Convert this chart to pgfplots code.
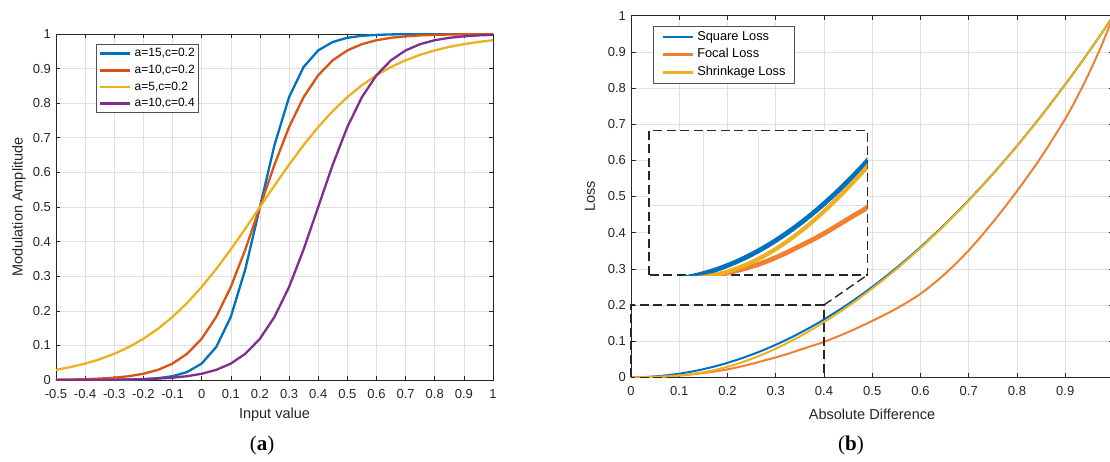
\documentclass[border=0pt]{standalone}
\usepackage{pgfplots}
\pgfplotsset{compat=1.18}
\usepackage{pgfplotstable}
\usepackage{fontspec}
\setmainfont{Liberation Sans}
\newfontfamily\capfont{Liberation Serif}

\definecolor{mblue}{RGB}{0,114,189}
\definecolor{mred}{RGB}{217,83,25}
\definecolor{myellow}{RGB}{237,177,32}
\definecolor{mpurple}{RGB}{126,47,142}
\definecolor{morange}{RGB}{240,128,48}
\definecolor{axgray}{RGB}{38,38,38}
\definecolor{gridgray}{RGB}{224,224,224}

% sigmoid modulation curves, panel (a)
\pgfplotstableread{
x     b15     r10     y5      p10
-0.5  0.00003 0.00091 0.02931 0.00012
-0.45 0.00006 0.0015  0.03733 0.0002
-0.4  0.00012 0.00247 0.04743 0.00034
-0.35 0.00026 0.00407 0.06008 0.00055
-0.3  0.00055 0.00669 0.07586 0.00091
-0.25 0.00117 0.01099 0.09535 0.0015
-0.2  0.00247 0.01799 0.1192  0.00247
-0.15 0.00522 0.02931 0.148   0.00407
-0.1  0.01099 0.04743 0.1824  0.00669
-0.05 0.02299 0.07586 0.2227  0.01099
0     0.04743 0.1192  0.2689  0.01799
0.05  0.09535 0.1824  0.3208  0.02931
0.1   0.1824  0.2689  0.3775  0.04743
0.15  0.3208  0.3775  0.4378  0.07586
0.2   0.5     0.5     0.5     0.1192
0.25  0.6792  0.6225  0.5622  0.1824
0.3   0.8176  0.7311  0.6225  0.2689
0.35  0.9047  0.8176  0.6792  0.3775
0.4   0.9526  0.8808  0.7311  0.5
0.45  0.977   0.9241  0.7773  0.6225
0.5   0.989   0.9526  0.8176  0.7311
0.55  0.9948  0.9707  0.852   0.8176
0.6   0.9975  0.982   0.8808  0.8808
0.65  0.9988  0.989   0.9047  0.9241
0.7   0.99945 0.9933  0.9241  0.9526
0.75  0.99974 0.99593 0.9399  0.9707
0.8   0.99988 0.99753 0.9526  0.982
0.85  0.99994 0.9985  0.9627  0.989
0.9   0.99997 0.99909 0.9707  0.9933
0.95  0.99999 0.99945 0.977   0.99593
1     1       0.99966 0.982   0.99753
}\sigtab

% loss curves, panel (b)
\pgfplotstableread{
x     sq       fo     sh
0     0        0      0
0.025 0.000625 0.0002 0.0002
0.05  0.0025   0.001  0.0009
0.075 0.005625 0.0025 0.0025
0.1   0.01     0.005  0.005
0.125 0.015625 0.008  0.0088
0.15  0.0225   0.012  0.014
0.175 0.030625 0.0165 0.0208
0.2   0.04     0.022  0.0292
0.225 0.050625 0.029  0.0394
0.25  0.0625   0.037  0.0511
0.275 0.075625 0.046  0.0644
0.3   0.09     0.055  0.0793
0.325 0.105625 0.065  0.0956
0.35  0.1225   0.076  0.1132
0.375 0.140625 0.087  0.1322
0.4   0.16     0.098  0.1524
0.45  0.2025   0.125  0.1966
0.5   0.25     0.156  0.2455
0.55  0.3025   0.19   0.2992
0.6   0.36     0.231  0.3576
0.65  0.4225   0.285  0.4208
0.7   0.49     0.351  0.4888
0.75  0.5625   0.429  0.5617
0.8   0.64     0.515  0.6394
0.85  0.7225   0.609  0.7221
0.9   0.81     0.715  0.8097
0.925 0.855625 0.776  0.8554
0.95  0.9025   0.843  0.9023
0.975 0.950625 0.917  0.9505
1     1        1      0.9999
}\losstab

\tikzset{dashbox/.style={black!85, line width=1.4pt, dash pattern=on 9pt off 4.5pt}}

\pgfplotsset{
  mat/.style={scale only axis, axis line style={axgray, line width=0.7pt},
    tick style={axgray, line width=0.6pt}, major tick length=4.5pt,
    tick align=inside, xtick pos=both, ytick pos=both,
    grid=major, grid style={gridgray, line width=0.6pt},
    tick label style={font=\fontsize{13}{13}\selectfont, text=axgray},
    label style={font=\fontsize{14.5}{14.5}\selectfont, text=axgray},
    yticklabel style={xshift=-1.5pt}, xticklabel style={yshift=-6pt},
    ytick={0,0.1,0.2,0.3,0.4,0.5,0.6,0.7,0.8,0.9,1},
    yticklabels={0,0.1,0.2,0.3,0.4,0.5,0.6,0.7,0.8,0.9,1},
    legend cell align=left,
    legend image code/.code={\draw[#1] (0pt,0pt) -- (30pt,0pt);},
    legend image post style={line width=2.7pt},
  },
}

\begin{document}
\begin{tikzpicture}[x=1pt,y=1pt]
\path[use as bounding box] (0,0) rectangle (1110,461);

\begin{axis}[mat, at={(56pt,81pt)}, anchor=south west, width=437pt, height=346pt,
  xmin=-0.5, xmax=1, ymin=0, ymax=1,
  xtick={-0.5,-0.4,-0.3,-0.2,-0.1,0,0.1,0.2,0.3,0.4,0.5,0.6,0.7,0.8,0.9,1},
  xticklabels={-0.5,-0.4,-0.3,-0.2,-0.1,0,0.1,0.2,0.3,0.4,0.5,0.6,0.7,0.8,0.9,1},
  xlabel={Input value}, ylabel={Modulation Amplitude},
  xlabel style={at={(axis description cs:0.5,-0.101)}, anchor=center},
  ylabel style={at={(axis description cs:-0.0847,0.5)}, anchor=center},
  legend style={at={(0.0908,0.970)}, anchor=north west, draw=axgray!80,
    line width=0.6pt, fill=white, font=\fontsize{12}{12}\selectfont,
    inner xsep=3pt, inner ysep=2.5pt, row sep=3.7pt, column sep=2pt,
    nodes={inner sep=1pt, text height=8.6pt, text depth=2.4pt}},
]
\addplot[mblue, line width=2.3pt] table[x=x, y=b15] {\sigtab};
\addlegendentry{a=15,c=0.2}
\addplot[mred, line width=2.3pt] table[x=x, y=r10] {\sigtab};
\addlegendentry{a=10,c=0.2}
\addplot[myellow, line width=2.3pt] table[x=x, y=y5] {\sigtab};
\addlegendentry{a=5,c=0.2}
\addplot[mpurple, line width=2.3pt] table[x=x, y=p10] {\sigtab};
\addlegendentry{a=10,c=0.4}
\end{axis}

\begin{axis}[mat, at={(631pt,83.7pt)}, anchor=south west, width=482.5pt, height=361.6pt,
  xmin=0, xmax=1, ymin=0, ymax=1, clip mode=individual,
  xtick={0,0.1,0.2,0.3,0.4,0.5,0.6,0.7,0.8,0.9,1},
  xticklabels={0,0.1,0.2,0.3,0.4,0.5,0.6,0.7,0.8,0.9,{}},
  xlabel={Absolute Difference}, ylabel={Loss},
  xlabel style={at={(axis description cs:0.4995,-0.1015)}, anchor=center},
  ylabel style={at={(axis description cs:-0.085,0.5)}, anchor=center},
  legend style={at={(0.0462,0.9715)}, anchor=north west, draw=axgray!80,
    line width=0.6pt, fill=white, font=\fontsize{12.8}{12.8}\selectfont,
    inner xsep=8pt, inner ysep=3.8pt, row sep=4.2pt, column sep=2pt,
    nodes={inner sep=1pt, text height=9pt, text depth=2.6pt}},
]
\addplot[mblue, line width=2pt, smooth] table[x=x, y=sq] {\losstab};
\addlegendentry{Square Loss}
\addplot[morange, line width=2pt, smooth] table[x=x, y=fo] {\losstab};
\addlegendentry{Focal Loss}
\addplot[myellow, line width=2pt, smooth] table[x=x, y=sh] {\losstab};
\addlegendentry{Shrinkage Loss}
\draw[dashbox] (axis cs:0,0) rectangle (axis cs:0.4,0.2);
\draw[dashbox] (axis cs:0.4,0.2) -- (axis cs:0.49,0.283);
\end{axis}

% magnified view of the dashed region
\begin{axis}[at={(649pt,186pt)}, anchor=south west, scale only axis,
  width=218.3pt, height=144.3pt, xmin=0, xmax=0.4, ymin=0.008, ymax=0.2,
  axis background/.style={fill=white},
  axis line style={dashbox},
  xtick={0.1,0.2,0.3}, ytick={0.1}, xticklabels={}, yticklabels={},
  major tick length=0pt, grid=major, grid style={gridgray, line width=0.8pt},
]
\addplot[mblue, line width=4.8pt, smooth] table[x=x, y=sq] {\losstab};
\addplot[morange, line width=4.8pt, smooth] table[x=x, y=fo] {\losstab};
\addplot[myellow, line width=4.2pt, smooth] table[x=x, y=sh] {\losstab};
\end{axis}

\node[font=\capfont\fontsize{21}{21}\selectfont] at (262,16) {(\textbf{a})};
\node[font=\capfont\fontsize{21}{21}\selectfont] at (851,16) {(\textbf{b})};
\end{tikzpicture}
\end{document}
